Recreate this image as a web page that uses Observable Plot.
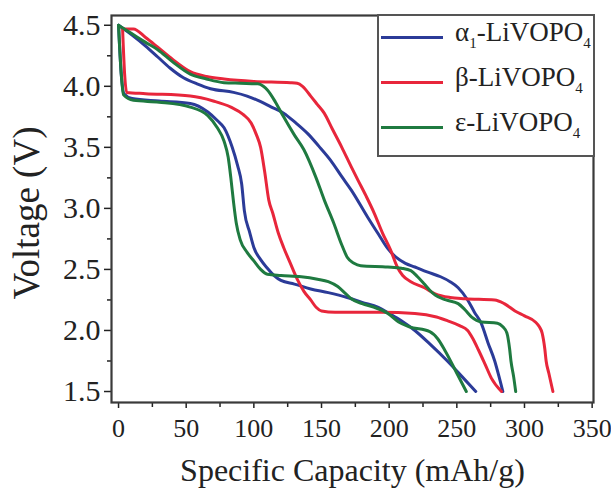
<!DOCTYPE html>
<html>
<head>
<meta charset="utf-8">
<script src="https://cdn.jsdelivr.net/npm/d3@7"></script>
<script src="https://cdn.jsdelivr.net/npm/@observablehq/plot@0.6"></script>
<style>
  html, body { margin: 0; padding: 0; background: #fff; }
  #wrap { position: relative; width: 611px; height: 492px; font-family: "Liberation Serif", "Times New Roman", serif; }
  #wrap svg text { font-family: "Liberation Serif", "Times New Roman", serif; }
  #legend { position: absolute; left: 377px; top: 14px; width: 214px; height: 139px; border: 2px solid #555; background: #fff; box-sizing: content-box; }
  .item { position: absolute; left: 0; height: 32px; display: flex; align-items: center; }
  .sw { width: 62px; height: 3px; margin-left: 2px; margin-right: 12px; }
  .lab { font-size: 27px; color: #222; white-space: nowrap; line-height: 32px; }
  .lab sub { font-size: 15px; vertical-align: -7px; }
</style>
</head>
<body>
<div id="wrap"></div>
<script>
const seriesNames = ["α1-LiVOPO4", "β-LiVOPO4", "ε-LiVOPO4"];
const seriesColors = ["#2b3b98", "#e8263b", "#1f7a40"];
const xTicks = [0, 50, 100, 150, 200, 250, 300, 350];
const xMinor = [25, 75, 125, 175, 225, 275, 325];
const yTicks = [1.5, 2.0, 2.5, 3.0, 3.5, 4.0, 4.5];
const yMinor = [1.75, 2.25, 2.75, 3.25, 3.75, 4.25];

// α1 curves [capacity, voltage]
const alphaLow = [[0,4.5],[2,4.1],[4,3.94],[10,3.9],[30,3.88],[53,3.86],[66,3.79],[73,3.72],[78,3.66],[84,3.5],[88,3.35],[91,3.2],[93,2.98],[97,2.8],[100,2.68],[105,2.58],[110,2.51],[115,2.45],[120,2.41],[130,2.38],[142,2.34],[155,2.31],[169,2.27],[180,2.23],[192,2.19],[200,2.14],[209,2.08],[219,2.0],[230,1.89],[243,1.75],[254,1.62],[264,1.5]];
const alphaHigh = [[0,4.5],[10,4.42],[20,4.33],[29,4.24],[38,4.15],[48,4.07],[58,4.02],[68,3.98],[85,3.95],[95,3.92],[103,3.885],[113,3.83],[122,3.78],[131,3.7],[140,3.61],[148,3.51],[157,3.39],[165,3.26],[172,3.15],[184,2.93],[192,2.79],[199,2.67],[205,2.6],[212,2.55],[219,2.52],[228,2.48],[238,2.44],[245,2.4],[251,2.35],[258,2.25],[263,2.15],[268,2.06],[273,1.9],[278,1.75],[281,1.63],[284,1.5]];
// β curves
const betaLow = [[3,4.47],[4.5,4.1],[6,3.95],[20,3.94],[53,3.92],[70,3.88],[83,3.83],[92,3.77],[98,3.7],[102,3.6],[105,3.5],[108,3.3],[111,3.07],[114,2.96],[118,2.8],[122,2.68],[127,2.55],[132.5,2.41],[137,2.32],[142,2.25],[146,2.19],[150,2.16],[160,2.15],[194,2.15],[219,2.14],[235,2.11],[243,2.08],[252,2.04],[258,2.0],[262,1.93],[266,1.84],[271,1.72],[275.5,1.61],[283,1.5]];
const betaHigh = [[3,4.47],[11,4.47],[20,4.4],[29,4.32],[40,4.22],[53,4.12],[65,4.08],[78,4.06],[100,4.04],[127,4.03],[132,4.025],[136,4.0],[142,3.92],[147,3.85],[152,3.78],[158,3.65],[165,3.5],[172,3.34],[177,3.23],[183,3.1],[189,2.96],[195,2.8],[201,2.66],[206,2.52],[210,2.45],[216,2.4],[226,2.35],[234,2.3],[245,2.27],[256,2.26],[278,2.25],[285,2.22],[293,2.16],[300,2.12],[308,2.07],[311,2.03],[313,1.98],[315,1.85],[316,1.75],[318,1.65],[321,1.5]];
// ε curves
const epsLow = [[0,4.5],[2,4.1],[3.7,3.93],[11,3.885],[30,3.87],[53,3.83],[66,3.76],[73,3.66],[78,3.55],[81,3.42],[83,3.25],[85,3.05],[87,2.88],[90,2.74],[95,2.64],[100,2.57],[105,2.5],[110,2.46],[120,2.45],[135,2.44],[147,2.42],[155,2.4],[162,2.36],[168,2.3],[172,2.26],[180,2.22],[189,2.19],[199,2.14],[207,2.07],[215,2.03],[230,1.99],[236,1.93],[241,1.84],[250,1.65],[257,1.5]];
const epsHigh = [[0,4.5],[10,4.43],[20,4.36],[29,4.3],[40,4.2],[53,4.1],[65,4.06],[78,4.03],[90,4.025],[103,4.02],[107,4.0],[110,3.97],[116,3.87],[122,3.75],[130,3.6],[137,3.48],[146,3.25],[152,3.07],[159,2.88],[165,2.7],[169,2.6],[174,2.55],[179,2.53],[199,2.52],[209,2.51],[216,2.49],[221,2.44],[226,2.38],[230,2.33],[234,2.29],[242,2.25],[251,2.22],[256,2.17],[261,2.11],[268,2.07],[280,2.06],[284,2.03],[287,1.98],[289,1.85],[290,1.75],[292,1.62],[293.5,1.5]];

const curves = [
  {name: seriesNames[0], id: "a-low", pts: alphaLow},
  {name: seriesNames[0], id: "a-high", pts: alphaHigh},
  {name: seriesNames[1], id: "b-low", pts: betaLow},
  {name: seriesNames[1], id: "b-high", pts: betaHigh},
  {name: seriesNames[2], id: "e-low", pts: epsLow},
  {name: seriesNames[2], id: "e-high", pts: epsHigh}
];
const data = curves.flatMap(c => c.pts.map(([x, v]) => ({series: c.name, curve: c.id, x, v})));

const chart = Plot.plot({
  width: 611,
  height: 492,
  marginLeft: 111,
  marginRight: 18,
  marginTop: 15,
  marginBottom: 90,
  style: {fontFamily: "Liberation Serif", background: "white", color: "#222"},
  x: {domain: [-5.2, 351]},
  y: {domain: [1.41, 4.58]},
  color: {domain: seriesNames, range: seriesColors},
  marks: [
    Plot.axisX({ticks: xTicks, tickSize: 6, tickPadding: 10, fontSize: 26, tickFormat: d => String(d), label: null, strokeWidth: 1.5}),
    Plot.axisX({ticks: xMinor, tickSize: 5, tickFormat: () => "", label: null, strokeWidth: 1.5}),
    Plot.axisY({ticks: yTicks, tickSize: 7, tickPadding: 4, fontSize: 30, tickFormat: d => d.toFixed(1), label: null, strokeWidth: 1.5}),
    Plot.axisY({ticks: yMinor, tickSize: 4, tickFormat: () => "", label: null, strokeWidth: 1.5}),
    Plot.line(data, {x: "x", y: "v", z: "curve", stroke: "series", strokeWidth: 3, curve: "monotone-x"}),
    Plot.frame({stroke: "#3a3a3a", strokeWidth: 2.2}),
    Plot.text(["Voltage (V)"], {text: d => d, frameAnchor: "left", textAnchor: "middle", rotate: -90, dx: -84, dy: 4, fontSize: 37, fill: "#222"}),
    Plot.text(["Specific Capacity (mAh/g)"], {text: d => d, frameAnchor: "bottom", textAnchor: "middle", dy: 78, fontSize: 32, fill: "#222"})
  ]
});
const wrap = document.getElementById("wrap");
wrap.appendChild(chart);

// legend
const legend = document.createElement("div");
legend.id = "legend";
const tops = [5, 50, 95];
seriesNames.forEach((name, i) => {
  const item = document.createElement("div");
  item.className = "item";
  item.style.top = tops[i] + "px";
  const sw = document.createElement("div");
  sw.className = "sw";
  sw.style.background = seriesColors[i];
  const lab = document.createElement("span");
  lab.className = "lab";
  lab.innerHTML = name.replace(/α1/, "α<sub>1</sub>").replace(/PO4$/, "PO<sub>4</sub>");
  item.appendChild(sw);
  item.appendChild(lab);
  legend.appendChild(item);
});
wrap.appendChild(legend);
</script>
</body>
</html>
